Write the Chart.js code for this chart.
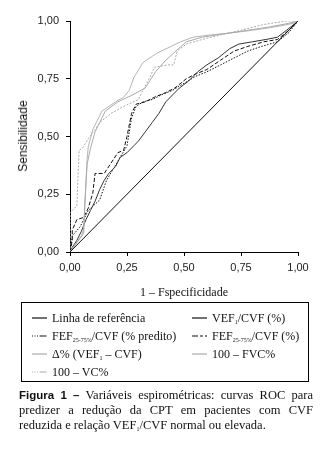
<!DOCTYPE html>
<html>
<head>
<meta charset="utf-8">
<script src="https://cdn.jsdelivr.net/npm/chart.js@4.4.1/dist/chart.umd.min.js"></script>
<style>
  html, body { margin: 0; padding: 0; background: #fff; }
  body { width: 326px; height: 460px; position: relative; overflow: hidden; color: #111; }
  #wrap { position: absolute; left: 0; top: 0; width: 326px; height: 290px; }
  .ytitle { position: absolute; left: 23px; top: 136px; transform: translate(-50%, -50%) rotate(-90deg);
            font: 12px 'Liberation Sans', sans-serif; white-space: nowrap; }
  .xtitle { position: absolute; left: 184px; top: 292px; transform: translate(-50%, -50%);
            font: 12px 'Liberation Serif', serif; white-space: nowrap; }
  .box { position: absolute; left: 21px; top: 302px; width: 286px; height: 78px; border: 1px solid #000; }
  .item { position: absolute; font: 12px 'Liberation Serif', serif; white-space: nowrap; line-height: 14px; }
  .item svg { position: absolute; left: -20px; top: 6px; }
  sub { font-size: 6px; vertical-align: -2px; }
  .cap { position: absolute; left: 19px; width: 294px; font: 12.5px 'Liberation Serif', serif;
         text-align: justify; text-align-last: justify; white-space: nowrap; line-height: 15px; height: 15px; }
  .cap b { font: bold 11.5px 'Liberation Sans', sans-serif; }
</style>
</head>
<body>
<div id="wrap"><canvas id="roc"></canvas></div>
<div class="ytitle">Sensibilidade</div>
<div class="xtitle">1 – Fspecificidade</div>
<div class="box"></div>
<div id="legend"></div>
<div class="cap" style="top:388px"><b>Figura 1 –</b> Variáveis espirométricas: curvas ROC para</div>
<div class="cap" style="top:403px">predizer a redução da CPT em pacientes com CVF</div>
<div class="cap" style="top:418px; text-align-last:left">reduzida e relação VEF<sub>1</sub>/CVF normal ou elevada.</div>
<script>
// ── Data ────────────────────────────────────────────────────
const tickValues = [0, 0.25, 0.5, 0.75, 1];

const refX = [0, 1];
const refY = [0, 1];

const vefX = [0, 0.01, 0.03, 0.05, 0.07, 0.09, 0.11, 0.13, 0.15, 0.17, 0.20, 0.22, 0.25, 0.28, 0.30, 0.33, 0.36, 0.39, 0.42, 0.45, 0.48, 0.52, 0.56, 0.60, 0.65, 0.70, 0.74, 0.80, 0.86, 0.91, 0.95, 1];
const vefY = [0, 0.02, 0.05, 0.09, 0.14, 0.18, 0.22, 0.27, 0.31, 0.34, 0.37, 0.41, 0.43, 0.46, 0.48, 0.52, 0.56, 0.60, 0.65, 0.68, 0.71, 0.74, 0.78, 0.81, 0.84, 0.88, 0.90, 0.91, 0.92, 0.93, 0.96, 1];

const fefPredX = [0, 0.01, 0.045, 0.08, 0.13, 0.16, 0.19, 0.22, 0.25, 0.26, 0.27, 0.29, 0.32, 0.36, 0.40, 0.45, 0.50, 0.55, 0.60, 0.66, 0.72, 0.78, 0.84, 0.91, 0.96, 1];
const fefPredY = [0, 0.07, 0.11, 0.18, 0.225, 0.31, 0.36, 0.41, 0.46, 0.52, 0.58, 0.63, 0.65, 0.66, 0.68, 0.70, 0.73, 0.76, 0.78, 0.81, 0.84, 0.87, 0.89, 0.91, 0.95, 1];

const fefCvfX = [0, 0.01, 0.01, 0.03, 0.06, 0.08, 0.10, 0.11, 0.15, 0.18, 0.21, 0.235, 0.25, 0.27, 0.29, 0.33, 0.37, 0.42, 0.46, 0.51, 0.55, 0.60, 0.66, 0.72, 0.78, 0.85, 0.91, 0.96, 1];
const fefCvfY = [0, 0.05, 0.095, 0.14, 0.15, 0.19, 0.255, 0.34, 0.34, 0.385, 0.43, 0.44, 0.50, 0.60, 0.64, 0.65, 0.67, 0.69, 0.71, 0.75, 0.77, 0.79, 0.83, 0.87, 0.89, 0.91, 0.92, 0.96, 1];

const deltaX = [0, 0.03, 0.06, 0.065, 0.075, 0.09, 0.11, 0.13, 0.155, 0.21, 0.275, 0.33, 0.375, 0.42, 0.47, 0.51, 0.58, 0.68, 0.78, 0.88, 0.96, 1];
const deltaY = [0, 0.04, 0.08, 0.20, 0.38, 0.45, 0.52, 0.56, 0.61, 0.65, 0.68, 0.71, 0.78, 0.83, 0.875, 0.91, 0.93, 0.945, 0.96, 0.975, 0.99, 1];

const fvcX = [0, 0.02, 0.05, 0.06, 0.068, 0.075, 0.08, 0.10, 0.12, 0.14, 0.20, 0.235, 0.26, 0.28, 0.32, 0.38, 0.485, 0.54, 0.62, 0.72, 0.80, 0.87, 0.93, 0.98, 1];
const fvcY = [0, 0.03, 0.07, 0.10, 0.27, 0.40, 0.455, 0.53, 0.57, 0.61, 0.65, 0.67, 0.70, 0.755, 0.82, 0.86, 0.91, 0.93, 0.94, 0.95, 0.96, 0.97, 0.98, 0.99, 1];

const vcX = [0, 0, 0.03, 0.04, 0.055, 0.08, 0.11, 0.13, 0.18, 0.235, 0.30, 0.32, 0.35, 0.37, 0.43, 0.455, 0.47, 0.51, 0.58, 0.66, 0.75, 0.85, 0.95, 1];
const vcY = [0, 0.17, 0.20, 0.44, 0.45, 0.49, 0.53, 0.56, 0.60, 0.63, 0.66, 0.70, 0.755, 0.80, 0.81, 0.81, 0.87, 0.90, 0.92, 0.94, 0.96, 0.985, 1.0, 1];

const BLACK = '#111';
const GREY = '#a9a9a9';

function pts(xs, ys) { return xs.map((x, i) => ({ x, y: ys[i] })); }
function fmt(v) { return v.toFixed(2).replace('.', ','); }

const series = [
  { label: 'Linha de referência', data: pts(refX, refY), color: BLACK, dash: [] },
  { label: '100 – VC%', data: pts(vcX, vcY), color: GREY, dash: [2, 1.5] },
  { label: 'Δ% (VEF1 – CVF)', data: pts(deltaX, deltaY), color: GREY, dash: [] },
  { label: '100 – FVC%', data: pts(fvcX, fvcY), color: '#b4b4b4', dash: [] },
  { label: 'VEF1/CVF (%)', data: pts(vefX, vefY), color: '#333', dash: [] },
  { label: 'FEF25-75%/CVF (% predito)', data: pts(fefPredX, fefPredY), color: BLACK, dash: [1.5, 1.5] },
  { label: 'FEF25-75%/CVF (%)', data: pts(fefCvfX, fefCvfY), color: BLACK, dash: [4, 2] },
];

// ── Chart ──────────────────────────────────────────────────
Chart.defaults.font.family = "'Liberation Sans', sans-serif";
Chart.defaults.font.size = 11;
Chart.defaults.color = '#222';

new Chart(document.getElementById('roc').getContext('2d'), {
  type: 'line',
  data: {
    datasets: series.map((s) => ({
      label: s.label,
      data: s.data,
      borderColor: s.color,
      borderWidth: 1,
      borderDash: s.dash,
      pointRadius: 0,
      tension: 0,
      fill: false,
    })),
  },
  options: {
    responsive: true,
    maintainAspectRatio: false,
    animation: false,
    layout: { padding: { top: 21, right: 28, left: 0, bottom: 0 } },
    plugins: { legend: { display: false }, tooltip: { enabled: false } },
    scales: {
      x: {
        type: 'linear', min: 0, max: 1,
        afterBuildTicks: (s) => { s.ticks = tickValues.map((v) => ({ value: v })); },
        afterFit: (s) => { s.height = 38; },
        ticks: { callback: fmt, padding: 5, maxRotation: 0 },
        grid: { drawOnChartArea: false, drawTicks: true, tickLength: 4, color: '#000' },
        border: { color: '#000', width: 1 },
      },
      y: {
        type: 'linear', min: 0, max: 1,
        afterBuildTicks: (s) => { s.ticks = tickValues.map((v) => ({ value: v })); },
        afterFit: (s) => { s.width = 70; },
        ticks: { callback: fmt, padding: 7 },
        grid: { drawOnChartArea: false, drawTicks: true, tickLength: 4, color: '#000' },
        border: { color: '#000', width: 1 },
      },
    },
  },
});

// ── Legend (boxed, two columns) ────────────────────────────
const legendItems = [
  { html: 'Linha de referência', x: 52, y: 311, color: BLACK, dash: '' },
  { html: 'VEF<sub>1</sub>/CVF (%)', x: 212, y: 311, color: BLACK, dash: '' },
  { html: 'FEF<sub>25-75%</sub>/CVF (% predito)', x: 52, y: 329, color: BLACK, dash: '1,1.5,1,1.5,1,1.5,7' },
  { html: 'FEF<sub>25-75%</sub>/CVF (%)', x: 212, y: 329, color: BLACK, dash: '6,2,3,2' },
  { html: 'Δ% (VEF<sub>1</sub> – CVF)', x: 52, y: 347, color: GREY, dash: '' },
  { html: '100 – FVC%', x: 212, y: 347, color: GREY, dash: '' },
  { html: '100 – VC%', x: 52, y: 365, color: GREY, dash: '1,1.5,1,1.5,1,1.5,7' },
];
document.getElementById('legend').innerHTML = legendItems.map((it) => `
  <div class="item" style="left:${it.x}px;top:${it.y}px">
    <svg width="15" height="2"><line x1="0" y1="1" x2="15" y2="1" stroke="${it.color}" stroke-width="1.2" stroke-dasharray="${it.dash}"/></svg>${it.html}
  </div>`).join('');
</script>
</body>
</html>
